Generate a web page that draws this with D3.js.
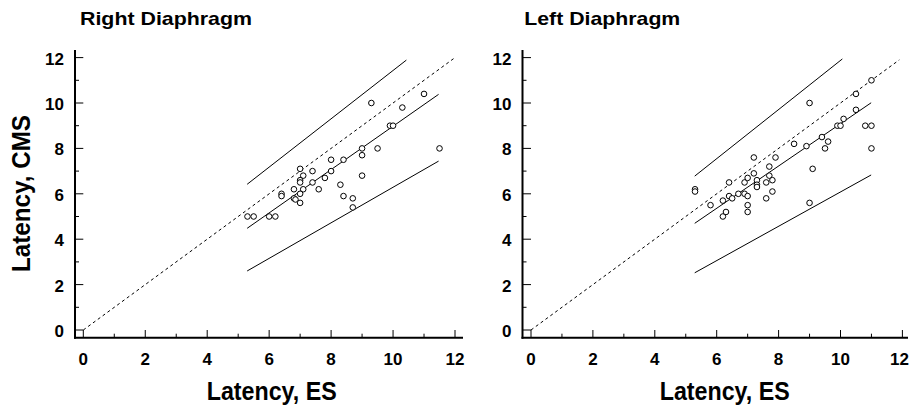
<!DOCTYPE html>
<html>
<head>
<meta charset="utf-8">
<script src="https://cdn.jsdelivr.net/npm/d3@7"></script>
<style>
  html, body { margin: 0; padding: 0; background: #fff; }
  svg { display: block; font-family: "Liberation Sans", Arial, Helvetica, sans-serif; }
</style>
</head>
<body>
<svg id="chart" width="910" height="409"></svg>
<script>
// ---------- DATA ----------
const panelTitles = ["Right Diaphragm", "Left Diaphragm"];
const xAxisTitle = "Latency, ES";
const yAxisTitle = "Latency, CMS";
const majorTicks = [0, 2, 4, 6, 8, 10, 12];
const minorTicks = [1, 3, 5, 7, 9, 11];

// Right Diaphragm: [ES latency, CMS latency]
const rightPoints = [
  [5.3,5.0],[5.5,5.0],[6.0,5.0],[6.2,5.0],[6.4,6.0],[6.4,5.9],[6.8,6.2],[6.8,5.8],
  [6.85,5.75],[7.0,7.1],[7.1,6.8],[7.0,6.6],[7.0,6.5],[7.1,6.2],[7.0,6.0],[7.0,5.6],
  [7.4,7.0],[7.4,6.5],[7.6,6.2],[7.8,6.7],[8.0,7.5],[8.0,7.0],[8.3,6.4],[8.4,7.5],
  [8.4,5.9],[8.7,5.8],[8.7,5.4],[9.0,8.0],[9.0,7.7],[9.0,6.8],[9.3,10.0],[9.5,8.0],
  [9.9,9.0],[10.0,9.0],[10.3,9.8],[11.0,10.4],[11.5,8.0]
];
// Left Diaphragm
const leftPoints = [
  [5.3,6.2],[5.3,6.1],[5.8,5.5],[6.2,5.7],[6.2,5.0],[6.3,5.2],[6.4,6.5],[6.4,5.9],
  [6.5,5.8],[6.7,6.0],[6.9,6.5],[6.9,6.0],[7.0,6.7],[7.0,5.9],[7.0,5.5],[7.0,5.2],
  [7.2,7.6],[7.2,6.9],[7.3,6.6],[7.3,6.4],[7.3,6.3],[7.6,6.5],[7.6,5.8],[7.7,7.2],
  [7.7,6.8],[7.8,6.6],[7.8,6.1],[7.9,7.6],[8.5,8.2],[8.9,8.1],[9.0,10.0],[9.0,5.6],
  [9.1,7.1],[9.4,8.5],[9.5,8.0],[9.6,8.3],[9.9,9.0],[10.0,9.0],[10.1,9.3],[10.5,9.7],
  [10.5,10.4],[10.8,9.0],[11.0,9.0],[11.0,8.0],[11.0,11.0]
];

// Lines (endpoints in data units)
const rightIdentity = [[0,0],[12,12]];
const rightRegression = [[5.29,4.48],[11.47,10.38]];
const rightUpper = [[5.29,6.42],[10.43,11.89]];
const rightLower = [[5.29,2.6],[11.47,7.44]];

const leftIdentity = [[0,0],[11.9,11.9]];
const leftRegression = [[5.29,4.7],[10.99,10.01]];
const leftUpper = [[5.29,6.78],[10.06,11.94]];
const leftLower = [[5.29,2.52],[10.99,6.83]];

// ---------- LAYOUT ----------
const svg = d3.select("#chart");

const panels = [
  { title: panelTitles[0], titleX: 80, titleLen: 172,
    xRange: [83.3, 455], axisX: 75, xAxisEnd: 463,
    points: rightPoints, identity: rightIdentity,
    solid: [rightRegression, rightUpper, rightLower],
    xLabelX: 271.7, showY: true },
  { title: panelTitles[1], titleX: 524.3, titleLen: 156,
    xRange: [531, 902.4], axisX: 522.5, xAxisEnd: 908,
    points: leftPoints, identity: leftIdentity,
    solid: [leftRegression, leftUpper, leftLower],
    xLabelX: 724.7, showY: false }
];

const yRange = [330, 57.6];
const axisY = 337.7;
const yAxisTop = 50;

panels.forEach(p => {
  const x = d3.scaleLinear().domain([0, 12]).range(p.xRange);
  const y = d3.scaleLinear().domain([0, 12]).range(yRange);
  const g = svg.append("g");

  // title
  g.append("text")
    .attr("x", p.titleX).attr("y", 25)
    .attr("font-size", 19).attr("font-weight", "bold")
    .attr("textLength", p.titleLen).attr("lengthAdjust", "spacingAndGlyphs")
    .text(p.title);

  // axis lines
  g.append("line")
    .attr("x1", p.axisX).attr("x2", p.axisX)
    .attr("y1", yAxisTop).attr("y2", axisY + 1)
    .attr("stroke", "#000").attr("stroke-width", 2);
  g.append("line")
    .attr("x1", p.axisX - 1).attr("x2", p.xAxisEnd)
    .attr("y1", axisY).attr("y2", axisY)
    .attr("stroke", "#000").attr("stroke-width", 2);

  const majLen = x(0) - p.axisX;
  const majLenY = axisY - y(0);

  // y ticks (inward)
  g.selectAll(".ymaj").data(majorTicks).enter().append("line")
    .attr("x1", p.axisX).attr("x2", p.axisX + majLen)
    .attr("y1", d => y(d)).attr("y2", d => y(d))
    .attr("stroke", "#000").attr("stroke-width", 1);
  g.selectAll(".ymin").data(minorTicks).enter().append("line")
    .attr("x1", p.axisX).attr("x2", p.axisX + 4)
    .attr("y1", d => y(d)).attr("y2", d => y(d))
    .attr("stroke", "#000").attr("stroke-width", 1);
  // x ticks (inward)
  g.selectAll(".xmaj").data(majorTicks).enter().append("line")
    .attr("x1", d => x(d)).attr("x2", d => x(d))
    .attr("y1", axisY).attr("y2", axisY - majLenY)
    .attr("stroke", "#000").attr("stroke-width", 1);
  g.selectAll(".xmin").data(minorTicks).enter().append("line")
    .attr("x1", d => x(d)).attr("x2", d => x(d))
    .attr("y1", axisY).attr("y2", axisY - 4)
    .attr("stroke", "#000").attr("stroke-width", 1);

  // tick labels
  g.selectAll(".ylab").data(majorTicks).enter().append("text")
    .attr("x", p.axisX - 11).attr("y", d => y(d) + 7)
    .attr("text-anchor", "end")
    .attr("font-size", 17).attr("font-weight", "bold")
    .text(d => d);
  g.selectAll(".xlab").data(majorTicks).enter().append("text")
    .attr("x", d => Math.min(x(d), 899.5)).attr("y", 365)
    .attr("text-anchor", "middle")
    .attr("font-size", 17).attr("font-weight", "bold")
    .text(d => d);

  // axis titles
  g.append("text")
    .attr("x", p.xLabelX).attr("y", 400)
    .attr("text-anchor", "middle")
    .attr("font-size", 25.5).attr("font-weight", "bold")
    .attr("textLength", 130).attr("lengthAdjust", "spacingAndGlyphs")
    .text(xAxisTitle);
  if (p.showY) {
    g.append("text")
      .attr("transform", "translate(30,193.5) rotate(-90)")
      .attr("text-anchor", "middle")
      .attr("font-size", 25.5).attr("font-weight", "bold")
      .attr("textLength", 157).attr("lengthAdjust", "spacingAndGlyphs")
      .text(yAxisTitle);
  }

  const line = d3.line().x(d => x(d[0])).y(d => y(d[1]));

  // identity (dashed)
  g.append("path").datum(p.identity)
    .attr("d", line).attr("fill", "none")
    .attr("stroke", "#000").attr("stroke-width", 1)
    .attr("stroke-dasharray", "3,3");

  // regression & limit lines
  g.selectAll(".sl").data(p.solid).enter().append("path")
    .attr("d", line).attr("fill", "none")
    .attr("stroke", "#000").attr("stroke-width", 1);

  // points
  g.selectAll(".pt").data(p.points).enter().append("circle")
    .attr("cx", d => x(d[0])).attr("cy", d => y(d[1]))
    .attr("r", 2.8)
    .attr("fill", "#fff").attr("stroke", "#000").attr("stroke-width", 1);
});
</script>
</body>
</html>
